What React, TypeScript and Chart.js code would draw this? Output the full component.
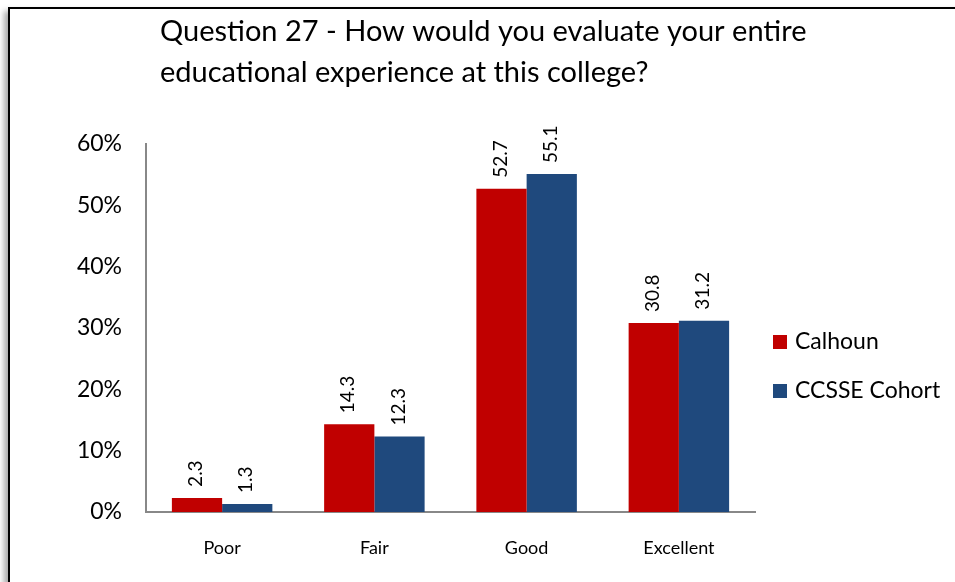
import React, { useEffect, useRef } from "react";
import { Chart, registerables } from "chart.js";

Chart.register(...registerables);

const categories = ["Poor", "Fair", "Good", "Excellent"];
const calhounValues = [2.3, 14.3, 52.7, 30.8];
const cohortValues = [1.3, 12.3, 55.1, 31.2];
const seriesNames = ["Calhoun", "CCSSE Cohort"];
const seriesColors = ["#C00000", "#1F497D"];
const titleLines = [
  "Question 27 - How would you evaluate your entire",
  "educational experience at this college?",
];
const yMin = 0;
const yMax = 60;
const yStep = 10;

const FONT = "Lato, 'Open Sans', sans-serif";

const overlayPlugin = {
  id: "overlay",
  afterDatasetsDraw(chart: any) {
    const ctx = chart.ctx;
    ctx.save();
    ctx.fillStyle = "#000";
    ctx.font = `19px ${FONT}`;
    ctx.textAlign = "left";
    ctx.textBaseline = "middle";
    chart.data.datasets.forEach((ds: any, di: number) => {
      const meta = chart.getDatasetMeta(di);
      meta.data.forEach((el: any, i: number) => {
        const v = ds.data[i];
        ctx.save();
        ctx.translate(el.x - 1, el.y - 11);
        ctx.rotate(-Math.PI / 2);
        ctx.fillText(v.toFixed(1), 0, 0);
        ctx.restore();
      });
    });
    ctx.restore();
  },
  afterDraw(chart: any) {
    const ctx = chart.ctx;
    ctx.save();
    // title
    ctx.fillStyle = "#000";
    ctx.font = `29px ${FONT}`;
    ctx.textAlign = "left";
    ctx.textBaseline = "alphabetic";
    titleLines.forEach((line, i) => {
      ctx.fillText(line, 160, 41 + i * 41);
    });
    // legend
    ctx.font = `23px ${FONT}`;
    ctx.textBaseline = "middle";
    seriesNames.forEach((name, i) => {
      const cy = 342 + i * 49;
      ctx.fillStyle = seriesColors[i];
      ctx.fillRect(773, cy - 7, 14, 14);
      ctx.fillStyle = "#000";
      ctx.fillText(name, 795, cy);
    });
    ctx.restore();
  },
};

export default function App() {
  const canvasRef = useRef<HTMLCanvasElement | null>(null);

  useEffect(() => {
    if (!canvasRef.current) return;
    const chart = new Chart(canvasRef.current, {
      type: "bar",
      data: {
        labels: categories,
        datasets: [
          {
            label: seriesNames[0],
            data: calhounValues,
            backgroundColor: seriesColors[0],
            categoryPercentage: 0.66,
            barPercentage: 1.0,
          },
          {
            label: seriesNames[1],
            data: cohortValues,
            backgroundColor: seriesColors[1],
            categoryPercentage: 0.66,
            barPercentage: 1.0,
          },
        ],
      },
      options: {
        responsive: false,
        animation: false,
        layout: { padding: { top: 144, right: 200, bottom: 0, left: 0 } },
        plugins: {
          legend: { display: false },
          title: { display: false },
          tooltip: { enabled: false },
        },
        scales: {
          x: {
            grid: { display: false, drawTicks: false },
            border: { color: "#888888", width: 2 },
            ticks: {
              color: "#000",
              font: { family: FONT, size: 18 },
              padding: 25,
            },
            afterFit: (s: any) => {
              s.height = 70;
            },
          },
          y: {
            min: yMin,
            max: yMax,
            grid: { display: false, drawTicks: false },
            border: { color: "#888888", width: 2 },
            ticks: {
              stepSize: yStep,
              color: "#000",
              font: { family: FONT, size: 23 },
              padding: 24,
              callback: (v: any) => `${v}%`,
            },
            afterFit: (s: any) => {
              s.width = 146;
            },
          },
        },
      },
      plugins: [overlayPlugin],
    });
    return () => chart.destroy();
  }, []);

  return (
    <div
      style={{
        position: "fixed",
        left: 0,
        top: 0,
        width: 955,
        height: 582,
        overflow: "hidden",
        background: "#fff",
      }}
    >
      <div
        style={{
          position: "absolute",
          left: 8,
          top: 7,
          width: 1100,
          height: 1100,
          borderLeft: "2px solid #000",
          borderTop: "2px solid #000",
          boxShadow: "-4px 4px 6px rgba(0,0,0,0.35)",
          background: "#fff",
        }}
      />
      <canvas
        ref={canvasRef}
        width={955}
        height={582}
        style={{ position: "absolute", left: 0, top: 0 }}
      />
    </div>
  );
}
